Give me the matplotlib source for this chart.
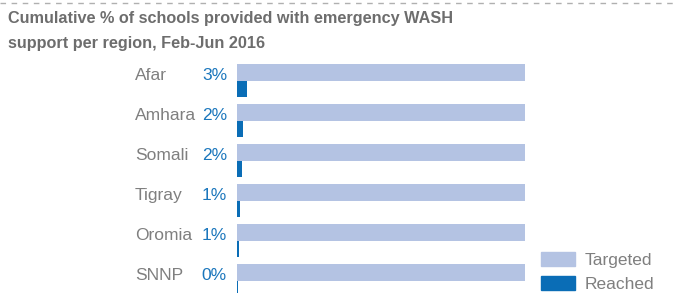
import matplotlib.pyplot as plt
import matplotlib.transforms as mtransforms
from matplotlib.patches import Patch
from matplotlib.lines import Line2D

regions = ["Afar", "Amhara", "Somali", "Tigray", "Oromia", "SNNP"]
targeted = [100, 100, 100, 100, 100, 100]
reached = [3.4, 2.1, 1.7, 1.1, 0.7, 0.48]
pct_labels = ["3%", "2%", "2%", "1%", "1%", "0%"]

c_target = "#b4c3e3"
c_reach = "#0a6db6"
c_grey = "#7f7f7f"
c_pct = "#1a76bc"

plt.rcParams['font.family'] = ['Liberation Sans', 'DejaVu Sans']

W, H = 675, 293
fig = plt.figure(figsize=(W / 100, H / 100), dpi=100)

# axes in pixel terms: bars start x=237, end x=525; first row top y=64
ax = fig.add_axes([237 / W, 0, (525 - 237) / W, (H - 64) / H])
ax.set_xlim(0, 100)
ax.set_ylim((H - 64) / 40, 0)
ax.axis('off')

ys = range(len(regions))
bh = 0.42
ax.barh([y for y in ys], targeted, height=bh, align='edge', color=c_target)
ax.barh([y + bh for y in ys], reached, height=0.4, align='edge', color=c_reach)

tr = mtransforms.blended_transform_factory(fig.transFigure, ax.transData)
for i, (r, p) in enumerate(zip(regions, pct_labels)):
    ax.text(135 / W, i + 0.28, r, transform=tr, ha='left', va='center',
            fontsize=12.5, color=c_grey, clip_on=False)
    ax.text(227 / W, i + 0.28, p, transform=tr, ha='right', va='center',
            fontsize=12.5, color=c_pct, clip_on=False)

fig.text(8 / W, 1 - 23 / H, "Cumulative % of schools provided with emergency WASH",
         fontsize=11.7, fontweight='bold', color='#6d6d6d', va='baseline')
fig.text(8 / W, 1 - 48 / H, "support per region, Feb-Jun 2016",
         fontsize=11.7, fontweight='bold', color='#6d6d6d', va='baseline')

fig.add_artist(Line2D([0, 1], [1 - 3 / H, 1 - 3 / H], transform=fig.transFigure,
                      color='#b0b0b0', lw=1, ls=(0, (4, 4))))

handles = [Patch(color=c_target), Patch(color=c_reach)]
fig.legend(handles, ["Targeted", "Reached"], loc='lower left',
           bbox_to_anchor=(541 / W, 1 / H), frameon=False, fontsize=12.5,
           handlelength=1.95, handleheight=0.85, handletextpad=0.55,
           labelspacing=0.45, borderpad=0, borderaxespad=0, labelcolor=c_grey)

fig.savefig("out.png", dpi=100)
